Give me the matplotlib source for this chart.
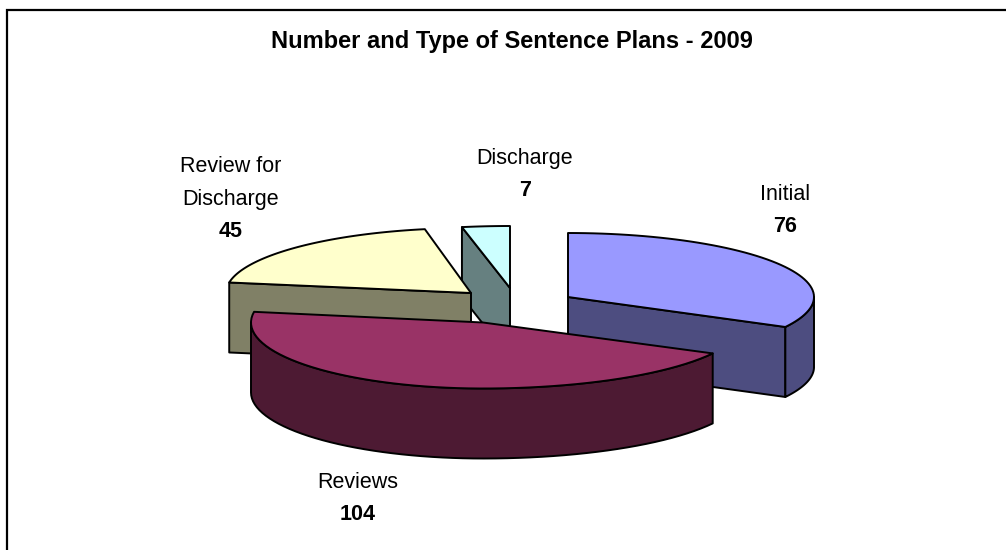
import numpy as np
import matplotlib
matplotlib.use('Agg')
import matplotlib.pyplot as plt
from matplotlib.patches import Polygon

categories = ['Initial', 'Reviews', 'Review for\nDischarge', 'Discharge']
values = [76, 104, 45, 7]
title = 'Number and Type of Sentence Plans - 2009'

top_colors = ['#9999FF', '#993366', '#FFFFCC', '#CCFFFF']
side_colors = ['#4D4D80', '#4D1A33', '#808066', '#668080']

# exploded slices, in pixels: apex, radius left/right of apex, radius y
apex_x = [568, 483, 471, 510]
apex_y = [297, 322.5, 293, 288]
radius_left = [246, 232, 245, 255]
radius_right = [246, 260, 245, 255]
radius_y = [64, 66, 65, 62]
label_x = [785, 358, 231, 525]
label_y = [200, 488, 172, 164]
depth = 70
line_step = 32.5

plt.rcParams['font.family'] = ['Liberation Sans', 'DejaVu Sans']

fig = plt.figure(figsize=(10.06, 5.5), dpi=100)
ax = fig.add_axes([0, 0, 1, 1])
ax.set_xlim(0, 1006)
ax.set_ylim(550, 0)
ax.axis('off')

# chart frame
ax.plot([7, 7, 1006], [550, 10, 10], color='black', lw=1.6, solid_joinstyle='miter')

ax.text(512, 48, title, ha='center', va='baseline', fontsize=17, fontweight='bold')


def rim(i, t0, t1, n=60):
    t = np.radians(np.linspace(t0, t1, n))
    s = np.sin(t)
    rx = np.where(s >= 0, radius_right[i], radius_left[i])
    return np.column_stack([apex_x[i] + rx * s,
                            apex_y[i] - radius_y[i] * np.cos(t)])


def poly(pts, color, z):
    ax.add_patch(Polygon(pts, closed=True, facecolor=color, edgecolor='black',
                         lw=1.4, joinstyle='round', zorder=z))


# angles run clockwise from 12 o'clock
edges = np.concatenate([[0], np.cumsum(values)]) / sum(values) * 360
down = np.array([0, depth])

for z, i in enumerate([3, 2, 0, 1]):
    t0, t1 = edges[i], edges[i + 1]
    apex = np.array([apex_x[i], apex_y[i]])
    # cut faces towards the viewer
    if i == 0:
        p = rim(i, t1, t1, 1)[0]
        poly([apex, p, p + down, apex + down], side_colors[i], z + 1)
    if i in (2, 3):
        p = rim(i, t0, t0, 1)[0]
        poly([apex, p, p + down, apex + down], side_colors[i], z + 1)
    # outer wall, front half of the ellipse only
    a, b = max(t0, 90), min(t1, 270)
    if a < b:
        r = rim(i, a, b)
        poly(np.vstack([r, (r + down)[::-1]]), side_colors[i], z + 1)
    poly(np.vstack([apex, rim(i, t0, t1)]), top_colors[i], z + 1)

for i in range(len(categories)):
    lines = categories[i].split('\n')
    for k, line in enumerate(lines):
        ax.text(label_x[i], label_y[i] + k * line_step, line, ha='center',
                va='baseline', fontsize=15.5)
    ax.text(label_x[i], label_y[i] + len(lines) * line_step, str(values[i]),
            ha='center', va='baseline', fontsize=15.5, fontweight='bold')

fig.savefig('out.png', dpi=100)
